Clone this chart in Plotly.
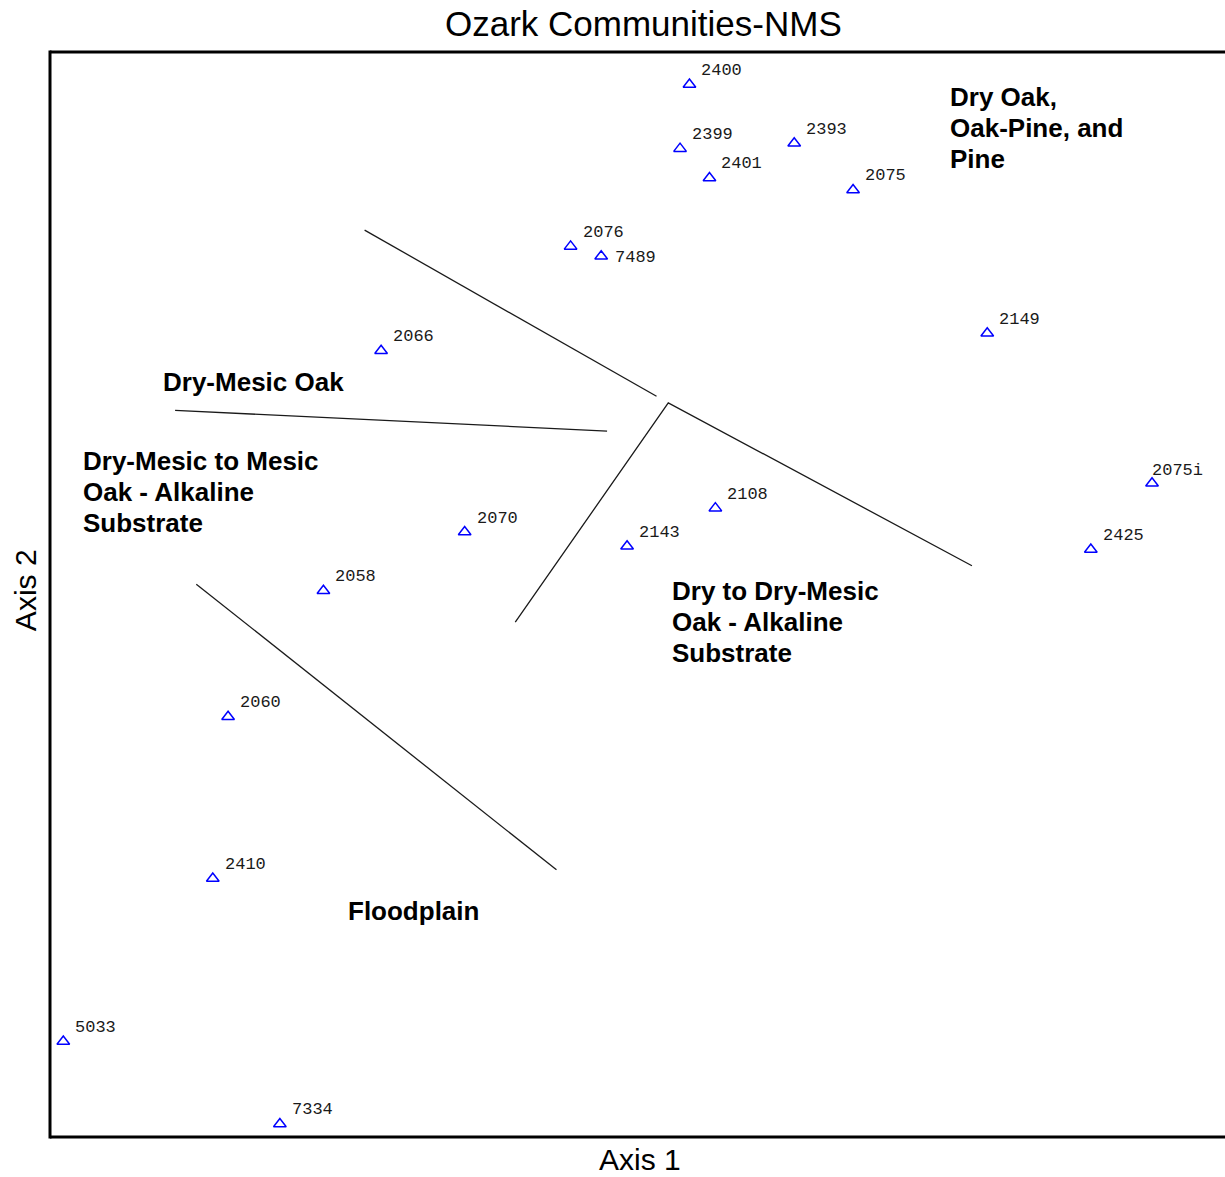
import plotly.graph_objects as go

# ---- data (NMS ordination scores; arbitrary 0-100 scale) ----
plot_ids = ["2400", "2399", "2393", "2401", "2075", "2076", "7489", "2066", "2149",
            "2075i", "2108", "2070", "2143", "2425", "2058", "2060", "2410", "5033", "7334"]
axis1 = [54.5, 53.7, 63.4, 56.2, 68.4, 44.4, 47.0, 28.3, 79.8,
         93.8, 56.7, 35.4, 49.2, 88.6, 23.4, 15.3, 14.0, 1.3, 19.7]
axis2 = [96.9, 91.0, 91.5, 88.3, 87.2, 82.0, 81.1, 72.4, 74.0,
         60.2, 57.9, 55.7, 54.4, 54.1, 50.3, 38.7, 23.8, 8.8, 1.2]

# community boundary lines (polylines in axis units)
divider_x = [[26.9, 51.7], [39.7, 52.7, 78.5], [10.8, 47.5], [12.6, 43.2]]
divider_y = [[83.5, 68.2], [47.4, 67.6, 52.6], [66.9, 65.0], [50.9, 24.6]]

# community group labels
group_lines = [["Dry Oak,", "Oak-Pine, and", "Pine"],
               ["Dry-Mesic Oak"],
               ["Dry-Mesic to Mesic", "Oak - Alkaline", "Substrate"],
               ["Dry to Dry-Mesic", "Oak - Alkaline", "Substrate"],
               ["Floodplain"]]
group_x = [76.6, 9.8, 3.0, 53.0, 25.5]
group_y = [95.8, 69.5, 62.2, 50.3, 20.8]

title_text = "Ozark Communities-NMS"
x_title = "Axis 1"
y_title = "Axis 2"

# ---- figure ----
fig = go.Figure()

for dx, dy in zip(divider_x, divider_y):
    fig.add_trace(go.Scatter(x=dx, y=dy, mode="lines",
                             line=dict(color="#1a1a1a", width=1.3),
                             hoverinfo="skip", showlegend=False))

fig.add_trace(go.Scatter(
    x=axis1, y=axis2, mode="markers",
    marker=dict(symbol="triangle-up-open", size=11, color="#0000ff",
                line=dict(width=1.5, color="#0000ff")),
    text=plot_ids, hoverinfo="text", showlegend=False))

label_font = dict(family="Liberation Mono, DejaVu Sans Mono, monospace", size=17, color="#1a1a1a")
default_shift = (10, 14)
special_shift = {"7489": (12, -1), "2075i": (-2, 13)}

annotations = []
for pid, xv, yv in zip(plot_ids, axis1, axis2):
    xs, ys = special_shift.get(pid, default_shift)
    annotations.append(dict(x=xv, y=yv, xref="x", yref="y", text=pid,
                            showarrow=False, xanchor="left", yanchor="middle",
                            xshift=xs, yshift=ys, font=label_font))

group_font = dict(family="Liberation Sans, Arial, sans-serif", size=26, color="#000000", weight="bold")
line_step = 31
for lines, gx, gy in zip(group_lines, group_x, group_y):
    for i, ln in enumerate(lines):
        annotations.append(dict(x=gx, y=gy, xref="x", yref="y", text=ln,
                                showarrow=False, xanchor="left", yanchor="middle",
                                xshift=-2, yshift=-i * line_step, font=group_font))

title_font = dict(family="Liberation Sans, Arial, sans-serif", size=35, color="#000000")
axis_font = dict(family="Liberation Sans, Arial, sans-serif", size=30, color="#000000")
annotations.append(dict(x=0.5055, y=1.0265, xref="paper", yref="paper", text=title_text,
                        showarrow=False, xanchor="center", yanchor="middle", font=title_font))
annotations.append(dict(x=0.502, y=-0.021, xref="paper", yref="paper", text=x_title,
                        showarrow=False, xanchor="center", yanchor="middle", borderpad=0,
                        font=axis_font))
annotations.append(dict(x=-0.0213, y=0.504, xref="paper", yref="paper", text=y_title,
                        showarrow=False, xanchor="center", yanchor="middle", textangle=-90,
                        font=axis_font))

frame = dict(color="#000000", width=3)
shapes = [
    dict(type="line", xref="paper", yref="paper", x0=0, x1=1.01, y0=1, y1=1, line=frame),
    dict(type="line", xref="paper", yref="paper", x0=0, x1=0, y0=-0.0014, y1=1.0014, line=frame),
    dict(type="line", xref="paper", yref="paper", x0=0, x1=1.01, y0=0, y1=0, line=frame),
]

axis_common = dict(showgrid=False, zeroline=False, showticklabels=False, ticks="",
                   showline=False, fixedrange=True)
fig.update_layout(
    width=1225, height=1177,
    margin=dict(l=50, r=0, t=52, b=40),
    paper_bgcolor="white", plot_bgcolor="white",
    xaxis=dict(range=[0.17, 100], **axis_common),
    yaxis=dict(range=[0, 99.9], **axis_common),
    annotations=annotations, shapes=shapes,
    showlegend=False,
)

# remove the browser's default 8px body margin so the figure fills the window exactly
fig.write_html("out.html",
               config={"displayModeBar": False},
               post_script="document.body.style.margin='0';document.body.style.overflow='hidden';")
